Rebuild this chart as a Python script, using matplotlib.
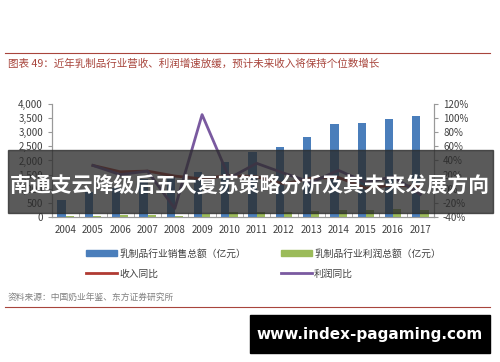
import numpy as np
import matplotlib.pyplot as plt
from matplotlib.patches import Patch, Rectangle
from matplotlib.lines import Line2D

plt.rcParams['font.family'] = ['Noto Sans CJK SC', 'DejaVu Sans']

years = ['2004', '2005', '2006', '2007', '2008', '2009', '2010',
         '2011', '2012', '2013', '2014', '2015', '2016', '2017']
sales = [617, 892, 1041, 1329, 1431, 1600, 1942, 2308, 2485, 2818, 3290, 3315, 3480, 3585]
profit = [35, 45, 56, 77, 20, 110, 170, 180, 190, 220, 250, 240, 290, 250]
# growth rates in %, first year has no value
sales_yoy = [np.nan, 33, 24, 25, 18, 14, 19, 17, 7, 15, 16, 1, 5, 3]
profit_yoy = [np.nan, 33, 20, 25, -28, 105, 15, 36, 22, 9, 26, 9, 17, -8]

fig = plt.figure(figsize=(5, 3.62), dpi=100)
ax = fig.add_axes([0.104, 0.4006, 0.764, 0.3121])
ax2 = ax.twinx()

x = np.arange(len(years))
w = 0.3
ax.bar(x - w / 2, sales, w, color='#4a7ebb', zorder=2)
ax.bar(x + w / 2, profit, w, color='#9bbb59', zorder=2)
ax2.plot(x, sales_yoy, color='#b03a32', lw=2)
ax2.plot(x, profit_yoy, color='#7a5aa0', lw=2)

ax.set_xlim(-0.5, len(years) - 0.5)
ax.set_ylim(0, 4000)
ax.set_yticks(range(0, 4001, 500))
ax.set_yticklabels(['{:,}'.format(v) for v in range(0, 4001, 500)])
ax2.set_ylim(-40, 120)
ax2.set_yticks(range(-40, 121, 20))
ax2.set_yticklabels(['{}%'.format(v) for v in range(-40, 121, 20)])
ax.set_xticks(x)
ax.set_xticklabels(years)
ax.set_xticks(np.arange(-0.5, len(years), 1), minor=True)
ax.tick_params(axis='x', which='major', length=0, pad=6)
ax.tick_params(axis='x', which='minor', length=3, color='#999999', direction='in')

for a in (ax, ax2):
    a.tick_params(axis='y', labelsize=7, length=3, color='#999999', labelcolor='#404040')
    a.tick_params(axis='x', labelsize=7, labelcolor='#404040')
    a.spines['top'].set_visible(False)
    for s in ['left', 'right', 'bottom']:
        a.spines[s].set_color('#999999')

handles = [Patch(color='#4a7ebb'), Line2D([], [], color='#b03a32', lw=2),
           Patch(color='#9bbb59'), Line2D([], [], color='#7a5aa0', lw=2)]
labels = ['乳制品行业销售总额（亿元）', '收入同比', '乳制品行业利润总额（亿元）', '利润同比']
fig.legend(handles, labels, ncol=2, loc='center left', bbox_to_anchor=(0.155, 0.272),
           frameon=False, fontsize=7, handlelength=3.2, handleheight=0.5,
           handletextpad=0.2, columnspacing=3.6, labelspacing=1.0, labelcolor='#404040')

# title and lines
fig.add_artist(Line2D([0.01, 0.98], [1 - 53 / 362, 1 - 53 / 362], color='#a8453c', lw=0.8))
fig.text(0.016, 1 - 64 / 362, '图表 49：近年乳制品行业营收、利润增速放缓，预计未来收入将保持个位数增长',
         fontsize=7.6, color='#a8453c', va='center')
fig.text(0.016, 1 - 297 / 362, '资料来源：中国奶业年鉴、东方证券研究所',
         fontsize=6.3, color='#808080', va='center')
fig.add_artist(Line2D([0.01, 0.98], [1 - 307 / 362, 1 - 307 / 362], color='#a8453c', lw=0.8))

# dark banner over the chart
fig.add_artist(Rectangle((8 / 500, 1 - 213 / 362), 485 / 500, 63 / 362,
                         transform=fig.transFigure, color='#2b2b2b', alpha=0.78, zorder=5))
fig.text(0.5, 1 - 185 / 362, '南通支云降级后五大复苏策略分析及其未来发展方向',
         fontsize=15, fontweight='bold', color='white', ha='center', va='center', zorder=6)

# black box bottom right
fig.add_artist(Rectangle((250 / 500, 1 - 353 / 362), 240 / 500, 38 / 362,
                         transform=fig.transFigure, color='black', zorder=5))
fig.text(370 / 500, 1 - 334 / 362, 'www.index-pagaming.com', family=['DejaVu Sans'],
         fontsize=11, fontweight='bold', color='white', ha='center', va='center', zorder=6)

fig.savefig('out.png', dpi=100)
